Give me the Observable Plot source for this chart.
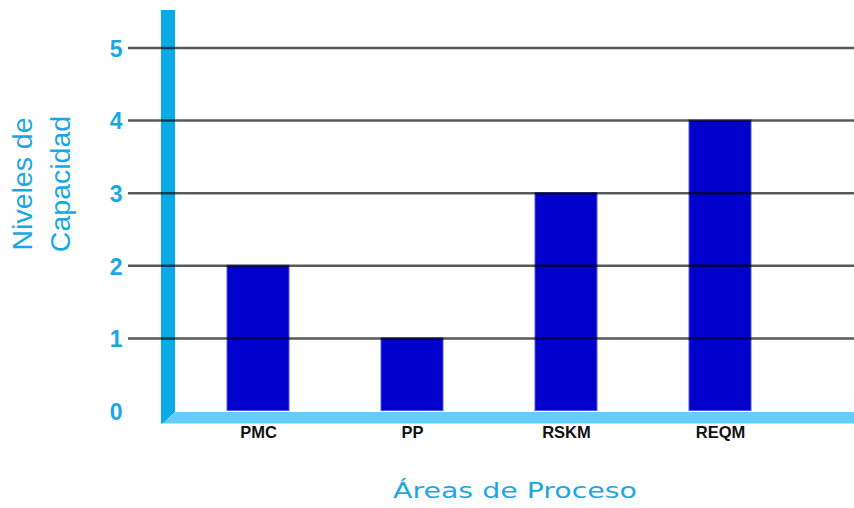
<!DOCTYPE html>
<html>
<head>
<meta charset="utf-8">
<script src="https://cdn.jsdelivr.net/npm/d3@7"></script>
<script src="https://cdn.jsdelivr.net/npm/@observablehq/plot@0.6"></script>
<style>
  html, body { margin: 0; padding: 0; background: #fff; }
  #chart svg { display: block; }
</style>
</head>
<body>
<div id="chart"></div>
<script>
const categories = ["PMC", "PP", "RSKM", "REQM"];
const values = [2, 1, 3, 4];
const gridValues = [1, 2, 3, 4, 5];
const tickLabels = [0, 1, 2, 3, 4, 5];
const xTitle = "Áreas de Proceso";
const yTitleLines = ["Niveles de", "Capacidad"];

const data = categories.map((c, i) => ({cat: c, val: values[i]}));

const axisBlue = "#0AAAE6";
const floorBlue = "#66CCFF";
const textBlue = "#1AA8E4";

const plot = Plot.plot({
  width: 854,
  height: 508,
  marginLeft: 128,
  marginRight: 0,
  marginTop: 47.5,
  marginBottom: 97.5,
  style: {background: "#fff", fontFamily: "'Liberation Sans', Arial, sans-serif"},
  x: {type: "band", domain: categories, range: [148, 829], paddingInner: 0.6, paddingOuter: 0.5, axis: null},
  y: {domain: [0, 5], axis: null},
  marks: [
    Plot.barY(data, {x: "cat", y: "val", fill: "#0000CC", stroke: "#5555EE", strokeWidth: 1}),
    Plot.ruleY(gridValues, {y: d => d, stroke: "#000", strokeOpacity: 0.65, strokeWidth: 2.5}),
    Plot.text(tickLabels, {
      y: d => d, text: d => String(d), frameAnchor: "left", textAnchor: "end", dx: -6, dy: 1.5,
      fill: textBlue, fontSize: 23, fontWeight: "bold"
    }),
    Plot.text(categories, {
      x: d => d, text: d => d, frameAnchor: "bottom", dy: 27,
      fill: "#111", fontSize: 16.5, fontWeight: "bold"
    })
  ]
});

const svg = d3.select(plot);
const y = plot.scale("y");
const y0 = y.apply(0);

// decorative axis bar beneath the marks
const deco = svg.insert("g", ":first-child");
deco.append("polygon")
  .attr("points", [[161, 10], [175, 10], [175, y0 + 1.5], [163, y0 + 13], [161, y0 + 13]].map(p => p.join(",")).join(" "))
  .attr("fill", axisBlue);

// floor drawn above the bars so the bars sit on it
svg.append("polygon")
  .attr("points", [[175, y0 + 1.5], [854, y0 + 1.5], [854, y0 + 13], [163, y0 + 13]].map(p => p.join(",")).join(" "))
  .attr("fill", floorBlue);

// titles
svg.append("text")
  .attr("x", 515).attr("y", 498)
  .attr("text-anchor", "middle")
  .attr("font-family", "'DejaVu Sans', sans-serif")
  .attr("font-size", 21)
  .attr("fill", textBlue)
  .attr("textLength", 244)
  .attr("lengthAdjust", "spacingAndGlyphs")
  .text(xTitle);

const yt = svg.append("text")
  .attr("transform", "translate(0,184) rotate(-90)")
  .attr("text-anchor", "middle")
  .attr("font-family", "'Liberation Sans', Arial, sans-serif")
  .attr("font-size", 28.5)
  .attr("fill", textBlue);
yt.append("tspan").attr("x", 0).attr("y", 32).text(yTitleLines[0]);
yt.append("tspan").attr("x", 0).attr("y", 70).text(yTitleLines[1]);

document.getElementById("chart").appendChild(plot);
</script>
</body>
</html>
